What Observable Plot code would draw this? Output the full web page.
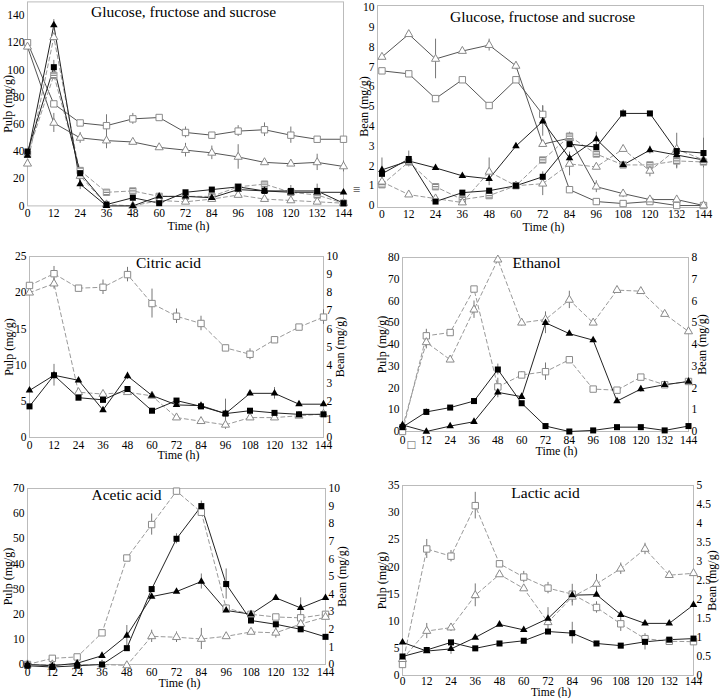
<!DOCTYPE html>
<html><head><meta charset="utf-8">
<script src="https://cdn.jsdelivr.net/npm/d3@7"></script>
<script src="https://cdn.jsdelivr.net/npm/@observablehq/plot@0.6"></script>
<style>
body{margin:0;background:#fff;}
#wrap{position:relative;width:720px;height:698px;overflow:hidden;background:#fff;font-family:"Liberation Serif",serif;}
#wrap > div.p{position:absolute;}
#wrap svg, #wrap svg text{font-family:"Liberation Serif","Times New Roman",serif !important;}
</style></head><body><div id="wrap"></div>
<script>
const hours = [0,12,24,36,48,60,72,84,96,108,120,132,144];

// Panel 1: Glucose, fructose and sucrose (pulp, mg/g)
const p1_yTicks = [0,20,40,60,80,100,120,140];
const p1_openSq    = [120,75,61,59,64,65,54,52,55,56,52,49,49];
const p1_openSqErr = [0,0,2,8,4,1,4,2,4,5,6,1,1];
const p1_openTri    = [117,61,50,48,47,43,41,39,36,32,31,32,29];
const p1_openTriErr = [0,7,4,6,1,0,5,5,9,2,2,6,4];
const p1_fillSq    = [40,102,24,1,6,2,10,12,14,11,11,11,2];
const p1_fillSqErr = [0,5,2,0,0,0,0,0,0,0,4,5,0];
const p1_fillTri    = [37,133,16,0,0,7,7,6,12,11,10,10,10];
const p1_fillTriErr = [0,4,4,0,0,0,0,0,0,0,0,0,0];
const p1_stripSq = [38,96,26,10,11,7,7,7,14,16,10,8,2];
const p1_dashTri = [31,124,22,1,0,4,3,5,8,5,4,3,2];

// Panel 2: Glucose, fructose and sucrose (bean, mg/g)
const p2_yTicks = [0,1,2,3,4,5,6,7,8,9,10];
const p2_openSq    = [6.8,6.65,5.4,6.35,5.05,6.35,4.6,0.8,0.2,0.1,0.2,0.0,0.0];
const p2_openSqErr = [0,0,0,0.1,0.1,0.1,0.45,0,0,0,0,0,0];
const p2_openTri    = [7.5,8.65,7.4,7.8,8.1,7.05,3.1,3.4,0.95,0.6,0.3,0.3,0.0];
const p2_openTriErr = [0,0.1,1.0,0.15,0.3,0.2,0,0,0.3,0.2,0,0,0];
const p2_fillSq    = [1.6,2.35,0.2,0.65,0.75,1.0,1.45,3.1,2.95,4.65,4.65,2.75,2.65];
const p2_fillSqErr = [0,0.4,0,0,0,0,0,0,0,0.2,0,0.9,0.75];
const p2_fillTri    = [1.8,2.25,1.9,1.5,1.35,3.0,4.25,2.4,3.35,2.05,2.8,2.55,2.3];
const p2_fillTriErr = [0.6,0,0,0,0,0,0.75,0,0.35,0,0.2,0,0];
const p2_stripSq    = [1.05,2.2,0.95,0.3,0.5,1.0,2.3,3.5,2.6,2.05,2.05,2.25,2.2];
const p2_stripSqErr = [0,0,0,0,0,0,0,0.2,0,0,0,0.35,0];
const p2_dashTri    = [1.2,0.55,0.35,0.15,1.7,1.0,1.1,2.1,1.95,2.85,1.75,2.85,2.3];
const p2_dashTriErr = [0,0,0,0,0.7,0,0.6,0.6,0,0,0.3,0,0];

// Panel 3: Citric acid (pulp left 0-25, bean right 0-10)
const p3_yTicks = [0,5,10,15,20,25];
const p3_rTicks = [0,1,2,3,4,5,6,7,8,9,10];
const p3_fillSq    = [4.3,8.6,5.5,5.2,6.7,3.7,5.1,4.3,3.3,3.7,3.4,3.2,3.2];
const p3_fillSqErr = [0,1.5,0,0,0,0,0,0.4,2.0,0,0,0,0];
const p3_fillTri    = [6.5,8.6,7.9,3.8,8.5,5.8,4.5,4.4,3.3,6.1,6.1,4.6,4.6];
const p3_fillTriErr = [0,0,0,0,0.5,0,0,0,0,0,0.8,0,0];
const p3_openSq    = [8.4,9.05,8.25,8.3,9.0,7.4,6.7,6.3,4.95,4.6,5.4,6.1,6.65];
const p3_openSqErr = [0,0.4,0,0.4,0.4,0.8,0.4,0.4,0,0.3,0,0,0.4];
const p3_openTri    = [8.0,8.5,2.5,2.4,2.5,2.3,1.1,0.9,0.7,1.1,1.1,1.2,1.3];
const p3_openTriErr = [0,0.3,0,0,0,0,0,0,0.25,0,0,0,0];

// Panel 4: Ethanol (pulp left 0-80, bean right 0-8)
const p4_yTicks = [0,10,20,30,40,50,60,70,80];
const p4_rTicks = [0,1,2,3,4,5,6,7,8];
const p4_fillSq    = [2,9,11,14,28.5,13,2.5,0,0.5,2,2,0.5,2.5];
const p4_fillSqErr = [0,1.5,0,0,2.5,0,0,0,0,0,0,0,0];
const p4_fillTri    = [3,0,2.5,4.5,18,16,50,45,42,14,19.5,21.5,23];
const p4_fillTriErr = [0,0,0,0,2.5,0,5,0,0,0,1.5,0,0];
const p4_openSq    = [0,4.4,4.55,6.55,2.05,2.6,2.75,3.3,1.95,1.9,2.5,2.15,2.3];
const p4_openSqErr = [0,0.3,0,0,0.4,0.15,0.4,0.1,0,0,0,0,0];
const p4_openTri    = [0.2,4.1,3.3,5.6,7.9,5.0,5.15,6.05,5.0,6.5,6.45,5.4,4.6];
const p4_openTriErr = [0,0.3,0.1,0.4,0,0.15,0.3,0.4,0,0,0.1,0,0];

// Panel 5: Acetic acid (pulp left 0-70, bean right 0-10)
const p5_yTicks = [0,10,20,30,40,50,60,70];
const p5_rTicks = [0,1,2,3,4,5,6,7,8,9,10];
const p5_fillSq    = [-0.5,-1,-0.5,0,6.5,30,50,63,32,17.5,16,14,11];
const p5_fillSqErr = [0,0,0,0,0,0,2,2,6,0,0,1,0];
const p5_fillTri    = [0,-0.5,0.5,3.5,11.5,27,29,33,21.5,20,26.5,22.5,26.5];
const p5_fillTriErr = [0,0,0,0,4,0,0,3,0,1.5,0,4,0];
const p5_openSq    = [0,0.35,0.43,1.8,6.05,7.95,9.85,8.65,3.2,2.85,2.7,2.65,2.85];
const p5_openSqErr = [0,0,0,0,0.15,0.6,0,0,0.2,0,0,0,0];
const p5_openTri    = [0,0,0,0,-0.05,1.6,1.55,1.45,1.6,1.85,1.8,2.3,2.7];
const p5_openTriErr = [0,0,0,0,0,0.35,0.3,0.6,0,0,0.3,0,0];

// Panel 6: Lactic acid (pulp left 0-35, bean right 0-5)
const p6_yTicks = [0,5,10,15,20,25,30,35];
const p6_rTicks = [0,0.5,1,1.5,2,2.5,3,3.5,4,4.5,5];
const p6_fillSq    = [3.5,4.7,6.1,5.0,5.9,6.4,8.1,7.8,5.9,5.5,6.2,6.6,6.8];
const p6_fillSqErr = [0,0,0,0,0,0,0,2,0,0,1.5,0,0];
const p6_fillTri    = [6.1,4.5,4.9,7.0,9.4,8.4,10.5,14.8,14.9,11.2,9.6,9.6,13];
const p6_fillTriErr = [0,0,1,0,0,0,2,2,0,0,0,0,0];
const p6_openSq    = [0.29,3.33,3.14,4.47,2.94,2.59,2.3,2.14,1.79,1.36,0.97,0.9,0.89];
const p6_openSqErr = [0,0.25,0.15,0.35,0,0.15,0.15,0,0.15,0.2,0,0,0];
const p6_openTri    = [0.43,1.17,1.26,2.11,2.66,2.29,1.4,2.07,2.41,2.81,3.33,2.64,2.69];
const p6_openTriErr = [0,0.2,0.1,0.3,0,0,0,0.15,0.25,0.15,0.15,0,0];

const stripes = {
  draw(ctx, size) {
    const s = Math.sqrt(size) / 2, h = s * 0.42;
    for (const y0 of [-s, -h / 2, s - h]) {
      ctx.moveTo(-s, y0); ctx.lineTo(s, y0); ctx.lineTo(s, y0 + h); ctx.lineTo(-s, y0 + h); ctx.closePath();
    }
  }
};

const markerStyles = {
  fillSq:  [{symbol: "square", fill: "#000", stroke: "none", r: 3.4}],
  fillTri: [{symbol: "triangle", fill: "#000", stroke: "none", r: 2.8}],
  openSq:  [{symbol: "square", fill: "#fff", stroke: "#8a8a8a", strokeWidth: 1, r: 3.6}],
  openTri: [{symbol: "triangle", fill: "#fff", stroke: "#8a8a8a", strokeWidth: 1, r: 3.0}],
  stripSq: [{symbol: "square", fill: "#fff", stroke: "#999", strokeWidth: 1, r: 3.6},
            {symbol: stripes, fill: "#8a8a8a", stroke: "none", r: 3.3}]
};

function rows(vals, errs, k) {
  return hours.map((t, i) => ({t, v: vals[i] * k, e: (errs ? errs[i] : 0) * k}));
}

const panels = [
  {left: 0, top: 0, width: 360, height: 232, mL: 27, mR: 17, mT: 1.4, mB: 26.6, xDom: [0, 144], yDom: [0, 150],
   yTicks: p1_yTicks, title: "Glucose, fructose and sucrose", titleAt: [183, 12],
   leftLabel: "Pulp (mg/g)", leftDx: -19, timeDx: 3, timeDy: 20, tickPad: 3, mark: "≡", markAt: [356, 189],
   series: [
     {vals: p1_openSq, errs: p1_openSqErr, marker: "openSq", dash: null, line: "#555"},
     {vals: p1_openTri, errs: p1_openTriErr, marker: "openTri", dash: null, line: "#555"},
     {vals: p1_stripSq, errs: null, marker: "stripSq", dash: "4,3", line: "#999"},
     {vals: p1_dashTri, errs: null, marker: "openTri", dash: "4,3", line: "#999"},
     {vals: p1_fillSq, errs: p1_fillSqErr, marker: "fillSq", dash: null, line: "#222"},
     {vals: p1_fillTri, errs: p1_fillTriErr, marker: "fillTri", dash: null, line: "#222"}
   ]},
  {left: 360, top: 0, width: 360, height: 232, mL: 17, mR: 17, mT: 5, mB: 25, xDom: [-2, 144], yDom: [-0.1, 10.1],
   yTicks: p2_yTicks, title: "Glucose, fructose and sucrose", titleAt: [542, 17],
   leftLabel: "Bean (mg/g)", leftDx: -13, timeDx: 3, timeDy: 20, tickPad: 2,
   series: [
     {vals: p2_openSq, errs: p2_openSqErr, marker: "openSq", dash: null, line: "#555"},
     {vals: p2_openTri, errs: p2_openTriErr, marker: "openTri", dash: null, line: "#555"},
     {vals: p2_stripSq, errs: p2_stripSqErr, marker: "stripSq", dash: "4,3", line: "#999"},
     {vals: p2_dashTri, errs: p2_dashTriErr, marker: "openTri", dash: "4,3", line: "#999"},
     {vals: p2_fillSq, errs: p2_fillSqErr, marker: "fillSq", dash: null, line: "#222"},
     {vals: p2_fillTri, errs: p2_fillTriErr, marker: "fillTri", dash: null, line: "#222"}
   ]},
  {left: 0, top: 232, width: 360, height: 232, mL: 29, mR: 37, mT: 24, mB: 27, xDom: [0, 144], yDom: [0, 25],
   yTicks: p3_yTicks, rTicks: p3_rTicks, k: 2.5, title: "Citric acid", titleAt: [168, 263],
   leftLabel: "Pulp (mg/g)", leftDx: -20, rightLabel: "Bean (mg/g)", rightDx: 17, timeDx: 2, timeDy: 18, tickPad: 3,
   series: [
     {vals: p3_openSq, errs: p3_openSqErr, marker: "openSq", dash: "4,3", line: "#999", bean: true},
     {vals: p3_openTri, errs: p3_openTriErr, marker: "openTri", dash: "4,3", line: "#999", bean: true},
     {vals: p3_fillSq, errs: p3_fillSqErr, marker: "fillSq", dash: null, line: "#222"},
     {vals: p3_fillTri, errs: p3_fillTriErr, marker: "fillTri", dash: null, line: "#222"}
   ]},
  {left: 360, top: 232, width: 360, height: 232, mL: 42, mR: 32, mT: 25, mB: 33, xDom: [0, 144], yDom: [0, 80],
   yTicks: p4_yTicks, rTicks: p4_rTicks, k: 10, title: "Ethanol", titleAt: [536, 263],
   leftLabel: "Pulp (mg/g)", leftDx: -20, rightLabel: "Bean (mg/g)", rightDx: 14, timeDx: 11, timeDy: 20, tickPad: 4,
   mark: "□", markAt: [411, 444],
   series: [
     {vals: p4_openSq, errs: p4_openSqErr, marker: "openSq", dash: "4,3", line: "#999", bean: true},
     {vals: p4_openTri, errs: p4_openTriErr, marker: "openTri", dash: "4,3", line: "#999", bean: true},
     {vals: p4_fillSq, errs: p4_fillSqErr, marker: "fillSq", dash: null, line: "#222"},
     {vals: p4_fillTri, errs: p4_fillTriErr, marker: "fillTri", dash: null, line: "#222"}
   ]},
  {left: 0, top: 464, width: 360, height: 234, mL: 27, mR: 35, mT: 24, mB: 34, xDom: [0, 144], yDom: [0, 70],
   yTicks: p5_yTicks, rTicks: p5_rTicks, k: 7, title: "Acetic acid", titleAt: [126, 495],
   leftLabel: "Pulp (mg/g)", leftDx: -19, rightLabel: "Bean (mg/g)", rightDx: 17, timeDx: 3, timeDy: 19, tickPad: 3,
   series: [
     {vals: p5_openSq, errs: p5_openSqErr, marker: "openSq", dash: "4,3", line: "#999", bean: true},
     {vals: p5_openTri, errs: p5_openTriErr, marker: "openTri", dash: "4,3", line: "#999", bean: true},
     {vals: p5_fillTri, errs: p5_fillTriErr, marker: "fillTri", dash: null, line: "#222"},
     {vals: p5_fillSq, errs: p5_fillSqErr, marker: "fillSq", dash: null, line: "#222"}
   ]},
  {left: 360, top: 464, width: 360, height: 234, mL: 42, mR: 27, mT: 21, mB: 23, xDom: [0, 144], yDom: [0, 35],
   yTicks: p6_yTicks, rTicks: p6_rTicks, k: 7, title: "Lactic acid", titleAt: [545, 493],
   leftLabel: "Pulp (mg/g)", leftDx: -20, rightLabel: "Bean (mg/g)", rightDx: 19, timeDx: 3, timeDy: 16.5, tickPad: 1,
   timeSize: 11.5,
   series: [
     {vals: p6_openSq, errs: p6_openSqErr, marker: "openSq", dash: "4,3", line: "#999", bean: true},
     {vals: p6_openTri, errs: p6_openTriErr, marker: "openTri", dash: "4,3", line: "#999", bean: true},
     {vals: p6_fillSq, errs: p6_fillSqErr, marker: "fillSq", dash: null, line: "#222"},
     {vals: p6_fillTri, errs: p6_fillTriErr, marker: "fillTri", dash: null, line: "#222"}
   ]}
];

const fmt = v => String(Math.round(v * 100) / 100);
const wrap = document.getElementById("wrap");

for (const p of panels) {
  const lines = [], errs = [], dots = [];
  for (const s of p.series) {
    const data = rows(s.vals, s.errs, s.bean ? p.k : 1);
    lines.push(Plot.line(data, {x: "t", y: "v", stroke: s.line, strokeWidth: 1, strokeDasharray: s.dash || undefined}));
    errs.push(Plot.ruleX(data.filter(d => d.e > 0), {x: "t", y1: d => d.v - d.e, y2: d => d.v + d.e, stroke: "#777", strokeWidth: 1}));
    for (const st of markerStyles[s.marker]) dots.push(Plot.dot(data, {x: "t", y: "v", ...st}));
  }
  const frameL = p.left + p.mL, frameT = p.top + p.mT;
  const marks = [
    Plot.frame({stroke: "#bbb", strokeWidth: 1}),
    Plot.axisX(hours, {tickSize: 0, tickPadding: p.tickPad, label: null, fontSize: 11.5}),
    Plot.axisY(p.yTicks, {anchor: "left", tickSize: 0, tickPadding: 3, label: null, fontSize: 11.5}),
    ...lines, ...errs, ...dots,
    Plot.text([p.title], {frameAnchor: "top-left", dx: p.titleAt[0] - frameL, dy: p.titleAt[1] - frameT,
      textAnchor: "middle", lineAnchor: "middle", fontSize: 15.5}),
    Plot.text(["Time (h)"], {frameAnchor: "bottom", dx: p.timeDx, dy: p.timeDy, lineAnchor: "middle", fontSize: p.timeSize || 12}),
    Plot.text([p.leftLabel], {frameAnchor: "left", dx: p.leftDx, rotate: -90, textAnchor: "middle", lineAnchor: "middle", fontSize: 12})
  ];
  if (p.rTicks) {
    marks.push(Plot.axisY(p.rTicks.map(v => v * p.k), {anchor: "right", tickSize: 0, tickPadding: 3, label: null, fontSize: 11.5,
      tickFormat: d => fmt(d / p.k)}));
    marks.push(Plot.text([p.rightLabel], {frameAnchor: "right", dx: p.rightDx, rotate: -90, textAnchor: "middle", lineAnchor: "middle", fontSize: 12}));
  }
  if (p.mark) {
    marks.push(Plot.text([p.mark], {frameAnchor: "top-left", dx: p.markAt[0] - frameL, dy: p.markAt[1] - frameT,
      textAnchor: "middle", lineAnchor: "middle", fontSize: 13, fill: "#555"}));
  }
  const chart = Plot.plot({
    width: p.width, height: p.height,
    marginLeft: p.mL, marginRight: p.mR, marginTop: p.mT, marginBottom: p.mB,
    x: {domain: p.xDom},
    y: {domain: p.yDom},
    style: {fontFamily: '"Liberation Serif", "Times New Roman", serif', fontSize: "11.5px", color: "#000", background: "transparent", overflow: "visible"},
    marks
  });
  const div = document.createElement("div");
  div.className = "p";
  div.style.left = p.left + "px";
  div.style.top = p.top + "px";
  div.appendChild(chart);
  wrap.appendChild(div);
}
</script>
</body></html>
